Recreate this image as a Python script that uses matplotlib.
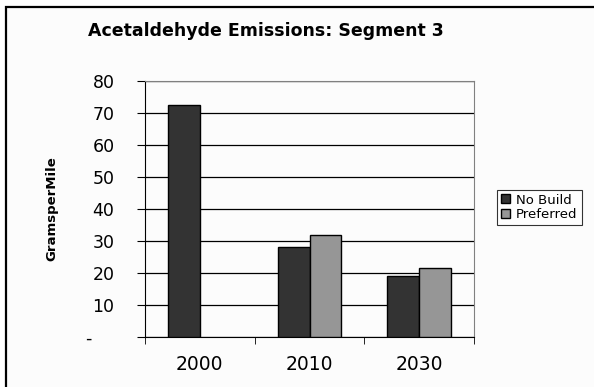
import numpy as np
import matplotlib
matplotlib.use("Agg")
import matplotlib.pyplot as plt
from matplotlib.patches import Rectangle

years = ["2000", "2010", "2030"]
no_build = [72.6, 28.0, 19.0]
preferred = [np.nan, 31.8, 21.6]
y_ticks = [0, 10, 20, 30, 40, 50, 60, 70, 80]
y_labels = ["-    ", "10", "20", "30", "40", "50", "60", "70", "80"]

plt.rcParams["font.family"] = ["DejaVu Sans"]

fig = plt.figure(figsize=(5.94, 3.87), dpi=100)
fig.patch.set_facecolor("white")
# chart frame (only top/left edges fall inside the image)
fig.patches.append(Rectangle((6 / 594, -0.1), 1.2, 1 - 7 / 387 + 0.1,
                             transform=fig.transFigure, facecolor="#fcfcfc",
                             edgecolor="black", linewidth=1.6, zorder=-10))

ax = fig.add_axes([145 / 594, 1 - 337 / 387, 329 / 594, 256 / 387])
ax.set_facecolor("none")

x = np.arange(len(years))
w = 0.29
ax.bar(x - w / 2, no_build, w, color="#333333", edgecolor="black", linewidth=1, label="No Build", zorder=3)
ax.bar(x + w / 2, preferred, w, color="#969696", edgecolor="black", linewidth=1, label="Preferred", zorder=3)

ax.set_xlim(-0.5, 2.5)
ax.set_ylim(0, 80)
ax.set_yticks(y_ticks)
ax.set_yticklabels(y_labels)
ax.yaxis.grid(True, color="black", linewidth=0.9)
ax.set_axisbelow(True)

ax.set_xticks(x)
ax.set_xticklabels(years)
ax.set_xticks([-0.5, 0.5, 1.5, 2.5], minor=True)
ax.tick_params(axis="x", which="major", length=0, pad=13, labelsize=13.5)
ax.tick_params(axis="x", which="minor", length=5, direction="out", color="black")
ax.tick_params(axis="y", length=6, direction="out", pad=16, labelsize=12.5, color="black")

for s in ["top", "right"]:
    ax.spines[s].set_color("#808080")
for s in ["left", "bottom"]:
    ax.spines[s].set_color("black")

ax.set_ylabel("GramsperMile", fontsize=9.5, fontweight="bold", labelpad=20)

fig.text(266 / 594, 1 - 31 / 387, "Acetaldehyde Emissions: Segment 3",
         ha="center", va="center", fontsize=12.5, fontweight="bold")

leg = ax.legend(loc="center left", bbox_to_anchor=(497 / 594, 1 - 207.5 / 387),
                bbox_transform=fig.transFigure, fontsize=9.5, frameon=True,
                fancybox=False, edgecolor="black", handlelength=0.65, handleheight=0.65,
                handletextpad=0.5, borderpad=0.3, labelspacing=0.15, borderaxespad=0)
leg.get_frame().set_linewidth(0.8)

fig.savefig("out.png", dpi=100)
